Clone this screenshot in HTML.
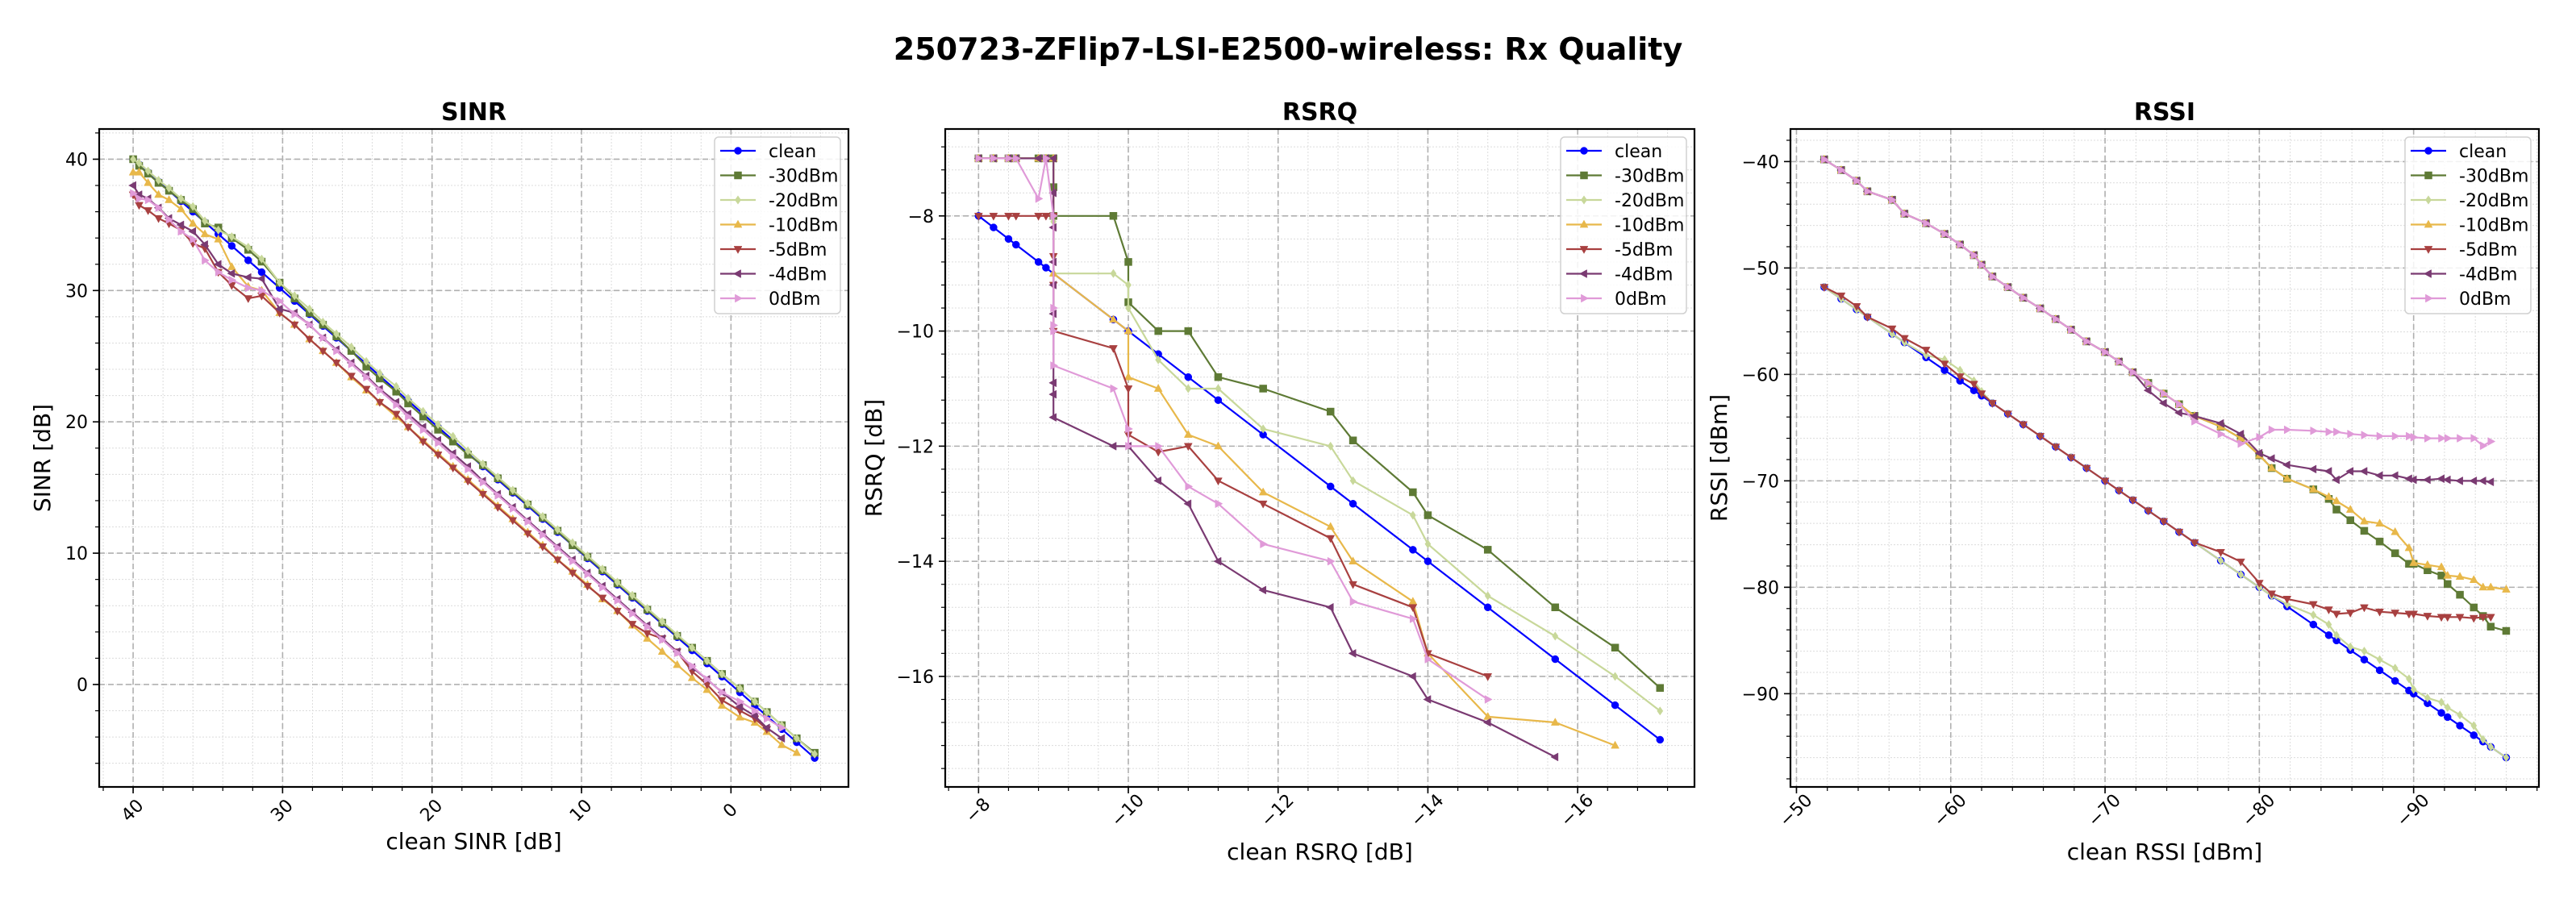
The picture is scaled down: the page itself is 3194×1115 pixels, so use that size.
<!DOCTYPE html>
<html><head><meta charset="utf-8">
<style>
html,body{margin:0;padding:0;background:#fff;}
svg{display:block;font-family:"DejaVu Sans","Liberation Sans",sans-serif;}
</style></head>
<body>
<svg id="fig" width="3194" height="1115" viewBox="0 0 3194 1115" xmlns="http://www.w3.org/2000/svg">
<rect width="3194" height="1115" fill="#fff"/>
<text x="1597" y="74" font-size="38" font-weight="bold" text-anchor="middle">250723-ZFlip7-LSI-E2500-wireless: Rx Quality</text>
</svg>
<script>
// ---------- series names / styles ----------
const seriesNames = ["clean","-30dBm","-20dBm","-10dBm","-5dBm","-4dBm","0dBm"];
const seriesColors = ["#0000ff","#5e7a35","#c8d89a","#e8b84a","#a84040","#7a3a72","#e09ad8"];
const seriesMarkers = ["o","s","D","^","v","<",">"];

// ---------- SINR ----------
const sinrX = [40,39.6,39,38.3,37.6,36.8,36,35.2,34.3,33.4,32.3,31.4,30.2,29.2,28.2,27.3,26.4,25.4,24.4,23.5,22.4,21.6,20.6,19.6,18.6,17.6,16.6,15.6,14.6,13.6,12.6,11.6,10.6,9.6,8.6,7.6,6.6,5.6,4.6,3.6,2.6,1.6,0.6,-0.6,-1.6,-2.4,-3.4,-4.4,-5.6];
const sinrClean = [40,39.6,39,38.3,37.6,36.8,36,35.2,34.3,33.4,32.3,31.4,30.2,29.2,28.2,27.3,26.4,25.4,24.4,23.5,22.4,21.6,20.6,19.6,18.6,17.6,16.6,15.6,14.6,13.6,12.6,11.6,10.6,9.6,8.6,7.6,6.6,5.6,4.6,3.6,2.6,1.6,0.6,-0.6,-1.6,-2.4,-3.4,-4.4,-5.6];
const sinrM30 = [40,39.5,38.9,38.2,37.6,36.9,36.2,35.1,34.8,34,33.1,32.2,30.6,29.4,28.3,27.4,26.5,25.4,24.2,23.3,22.3,21.4,20.4,19.4,18.5,17.5,16.7,15.7,14.7,13.7,12.7,11.7,10.6,9.7,8.7,7.7,6.7,5.7,4.7,3.7,2.8,1.8,0.8,-0.3,-1.3,-2.1,-3.1,-4.1,-5.2];
const sinrM20 = [40,39.7,39.1,38.4,37.8,37,36.4,35.3,34.6,34.1,33.3,32.4,30.6,29.6,28.6,27.6,26.7,25.7,24.6,23.7,22.7,21.8,20.8,19.8,18.9,17.8,16.8,15.8,14.8,13.8,12.8,11.8,10.8,9.8,8.8,7.8,6.8,5.8,4.8,3.8,2.8,1.8,0.8,-0.3,-1.3,-2.1,-3.1,-4.1,-5.3];
const sinrM10 = [39,39,38.2,37.3,36.9,36.2,35.1,34.3,33.9,31.8,30.3,30,28.3,27.4,26.3,25.4,24.5,23.4,22.4,21.5,20.4,19.6,18.6,17.6,16.6,15.6,14.6,13.6,12.6,11.6,10.6,9.5,8.6,7.6,6.5,5.6,4.5,3.5,2.5,1.5,0.5,-0.4,-1.6,-2.5,-2.9,-3.6,-4.6,-5.2];
const sinrM5 = [37.3,36.5,36.1,35.5,35.1,34.6,33.6,33.2,31.4,30.4,29.4,29.6,28.3,27.4,26.3,25.4,24.5,23.5,22.5,21.5,20.6,19.6,18.5,17.5,16.5,15.5,14.5,13.5,12.5,11.5,10.5,9.5,8.5,7.5,6.6,5.6,4.6,3.9,3.5,2.5,1,0,-1.2,-2,-2.6,-3.4];
const sinrM4 = [38,37.3,37,36.3,35.5,35,34.5,33.5,32,31.3,31,30.9,28.6,28.3,27.4,26.4,25.5,24.5,23.5,22.5,21.5,20.6,19.6,18.6,17.6,16.6,15.5,14.5,13.5,12.5,11.5,10.5,9.5,8.5,7.5,6.5,5.5,4.5,3.5,2.5,1.3,0.4,-0.6,-1.7,-2.4,-3.3,-4.1];
const sinr0 = [37.4,37,36.9,36.3,35.4,34.5,33.9,32.3,31.4,30.8,30.2,30.0,29.2,28.2,27.4,26.4,25.4,24.4,23.4,22.4,21.3,20.4,19.4,18.4,17.4,16.4,15.4,14.4,13.4,12.4,11.4,10.4,9.4,8.4,7.4,6.4,5.4,4.4,3.4,2.4,1.4,0.4,-0.6,-1.3,-2,-2.6,-3.3];
const sinrXTicks = [40,30,20,10,0];
const sinrYTicks = [0,10,20,30,40];

// ---------- RSRQ ----------
const rsrqCleanX = [-8,-8.2,-8.4,-8.5,-8.8,-8.9,-9.8,-10,-10.4,-10.8,-11.2,-11.8,-12.7,-13,-13.8,-14,-14.8,-15.7,-16.5,-17.1];
const rsrqCleanY = [-8,-8.2,-8.4,-8.5,-8.8,-8.9,-9.8,-10,-10.4,-10.8,-11.2,-11.8,-12.7,-13,-13.8,-14,-14.8,-15.7,-16.5,-17.1];
const rsrqM30X = [-8,-8.2,-8.4,-8.5,-8.8,-8.9,-9,-9,-9,-9.8,-10,-10,-10.4,-10.8,-11.2,-11.8,-12.7,-13,-13.8,-14,-14.8,-15.7,-16.5,-17.1];
const rsrqM30Y = [-7,-7,-7,-7,-7,-7,-7,-7.5,-8,-8,-8.8,-9.5,-10,-10,-10.8,-11,-11.4,-11.9,-12.8,-13.2,-13.8,-14.8,-15.5,-16.2];
const rsrqM20X = [-8,-8.2,-8.4,-8.5,-8.8,-8.9,-9,-9,-9,-9,-9.8,-10,-10,-10.4,-10.8,-11.2,-11.8,-12.7,-13,-13.8,-14,-14.8,-15.7,-16.5,-17.1];
const rsrqM20Y = [-7,-7,-7,-7,-7,-7,-7,-8.1,-8.7,-9,-9,-9.2,-9.6,-10.5,-11,-11,-11.7,-12,-12.6,-13.2,-13.7,-14.6,-15.3,-16,-16.6];
const rsrqM10X = [-8,-8.2,-8.4,-8.5,-8.8,-8.9,-9,-9,-9.8,-10,-10,-10.4,-10.8,-11.2,-11.8,-12.7,-13,-13.8,-14,-14.8,-15.7,-16.5];
const rsrqM10Y = [-7,-7,-7,-7,-7,-7,-7,-9,-9.8,-10,-10.8,-11,-11.8,-12,-12.8,-13.4,-14,-14.7,-15.6,-16.7,-16.8,-17.2];
const rsrqM5X = [-8,-8.2,-8.4,-8.5,-8.8,-8.9,-9,-9,-9,-9,-9.8,-10,-10,-10.4,-10.8,-11.2,-11.8,-12.7,-13,-13.8,-14,-14.8];
const rsrqM5Y = [-8,-8,-8,-8,-8,-8,-8,-8.7,-9.2,-10,-10.3,-11,-11.8,-12.1,-12,-12.6,-13,-13.6,-14.4,-14.8,-15.6,-16];
const rsrqM4X = [-8,-8.2,-8.4,-8.5,-8.8,-8.9,-9,-9,-9,-9,-9,-9,-9,-9,-9,-9.8,-10,-10.4,-10.8,-11.2,-11.8,-12.7,-13,-13.8,-14,-14.8,-15.7];
const rsrqM4Y = [-7,-7,-7,-7,-7,-7,-7,-7.6,-8.2,-8.8,-9.2,-9.7,-10.9,-11.1,-11.5,-12,-12,-12.6,-13,-14,-14.5,-14.8,-15.6,-16,-16.4,-16.8,-17.4];
const rsrq0X = [-8,-8.2,-8.4,-8.5,-8.8,-8.9,-9,-9,-9,-9,-9,-9.8,-10,-10,-10.4,-10.8,-11.2,-11.8,-12.7,-13,-13.8,-14,-14.8];
const rsrq0Y = [-7,-7,-7,-7,-7.7,-7,-8,-9.6,-9.9,-10,-10.6,-11,-11.7,-12,-12,-12.7,-13,-13.7,-14,-14.7,-15,-15.7,-16.4];
const rsrqXTicks = [-8,-10,-12,-14,-16];
const rsrqYTicks = [-8,-10,-12,-14,-16];

// ---------- RSSI ----------
const rssiX = [-51.8,-52.9,-53.9,-54.6,-56.2,-57,-58.4,-59.6,-60.6,-61.5,-62,-62.7,-63.7,-64.7,-65.8,-66.8,-67.8,-68.8,-70,-70.9,-71.8,-72.8,-73.8,-74.8,-75.8,-77.5,-78.8,-80,-80.8,-81.8,-83.5,-84.5,-85,-85.9,-86.8,-87.8,-88.8,-89.7,-90,-90.9,-91.8,-92.2,-93,-93.9,-94.5,-95,-96];
const rssiClean = [-51.8,-52.9,-53.9,-54.6,-56.2,-57,-58.4,-59.6,-60.6,-61.5,-62,-62.7,-63.7,-64.7,-65.8,-66.8,-67.8,-68.8,-70,-70.9,-71.8,-72.8,-73.8,-74.8,-75.8,-77.5,-78.8,-80,-80.8,-81.8,-83.5,-84.5,-85,-85.9,-86.8,-87.8,-88.8,-89.7,-90,-90.9,-91.8,-92.2,-93,-93.9,-94.5,-95,-96];
const rssiM30 = [-39.8,-40.8,-41.8,-42.8,-43.6,-44.9,-45.8,-46.8,-47.8,-48.8,-49.7,-50.8,-51.8,-52.8,-53.8,-54.8,-55.8,-56.9,-57.9,-58.8,-59.8,-60.8,-61.8,-62.8,-63.9,-64.9,-66,-67.6,-68.8,-69.8,-70.8,-71.7,-72.7,-73.7,-74.7,-75.7,-76.8,-77.8,-77.8,-78.4,-78.9,-79.7,-80.7,-81.9,-82.7,-83.7,-84.1];
const rssiM20 = [-51.8,-52.9,-53.9,-54.6,-56.2,-57,-58.2,-58.6,-59.6,-60.6,-61.6,-62.7,-63.7,-64.7,-65.8,-66.8,-67.8,-68.8,-70,-70.9,-71.8,-72.8,-73.8,-74.8,-75.8,-77.5,-78.8,-80,-80.8,-81.6,-82.6,-83.5,-84.5,-85.6,-86,-86.8,-87.6,-88.6,-89.6,-90.4,-90.8,-91.3,-92,-93,-94.3,-95,-96];
const rssiM10 = [-39.8,-40.8,-41.8,-42.8,-43.6,-44.9,-45.8,-46.8,-47.8,-48.8,-49.7,-50.8,-51.8,-52.8,-53.8,-54.8,-55.8,-56.9,-57.9,-58.8,-59.8,-60.8,-61.8,-62.8,-63.9,-64.9,-66,-67.6,-68.8,-69.8,-70.8,-71.5,-71.9,-72.7,-73.8,-74,-74.8,-76.3,-77.7,-77.9,-78.1,-78.9,-79,-79.3,-80,-80,-80.2];
const rssiM5 = [-51.8,-52.6,-53.6,-54.6,-55.7,-56.6,-57.7,-59,-60.2,-60.9,-61.8,-62.7,-63.7,-64.7,-65.8,-66.8,-67.8,-68.8,-70,-70.9,-71.8,-72.8,-73.8,-74.8,-75.8,-76.7,-77.6,-79.6,-80.6,-81.1,-81.6,-82.1,-82.5,-82.4,-81.9,-82.3,-82.4,-82.5,-82.5,-82.7,-82.8,-82.8,-82.8,-82.9,-82.8,-82.8];
const rssiM4 = [-39.8,-40.8,-41.8,-42.8,-43.6,-44.9,-45.8,-46.8,-47.8,-48.8,-49.7,-50.8,-51.8,-52.8,-53.8,-54.8,-55.8,-56.9,-57.9,-58.8,-59.8,-61.5,-62.7,-63.6,-63.9,-64.6,-65.6,-67.4,-67.9,-68.5,-68.9,-69.1,-69.9,-69.1,-69.1,-69.5,-69.5,-69.8,-69.9,-69.9,-69.8,-69.9,-70,-70,-70,-70.1];
const rssi0 = [-39.8,-40.8,-41.8,-42.8,-43.6,-44.9,-45.8,-46.8,-47.8,-48.8,-49.7,-50.8,-51.8,-52.8,-53.8,-54.8,-55.8,-56.9,-57.9,-58.8,-59.8,-60.8,-61.8,-62.8,-64.4,-65.6,-66.5,-65.9,-65.2,-65.2,-65.3,-65.4,-65.4,-65.6,-65.7,-65.8,-65.8,-65.8,-65.9,-66,-66,-66,-66,-66,-66.7,-66.3];
const rssiXTicks = [-50,-60,-70,-80,-90];
const rssiYTicks = [-40,-50,-60,-70,-80,-90];

const NS = "http://www.w3.org/2000/svg";
const svg = document.getElementById("fig");
function el(tag, attrs, parent){
  const e = document.createElementNS(NS, tag);
  for (const k in attrs) e.setAttribute(k, attrs[k]);
  (parent||svg).appendChild(e);
  return e;
}
function fmt(v){ return v < 0 ? "\u2212" + Math.abs(v) : String(v); }

function marker(g, type, x, y, color, s){
  let m;
  if (type === "o") m = el("circle", {cx:x, cy:y, r:s}, g);
  else if (type === "s") m = el("rect", {x:x-s, y:y-s, width:2*s, height:2*s}, g);
  else {
    let pts;
    if (type === "D") pts = [[0,-s*1.15],[s*0.8,0],[0,s*1.15],[-s*0.8,0]];
    else if (type === "^") pts = [[0,-s*1.2],[s*1.1,s*0.8],[-s*1.1,s*0.8]];
    else if (type === "v") pts = [[0,s*1.2],[s*1.1,-s*0.8],[-s*1.1,-s*0.8]];
    else if (type === "<") pts = [[-s*1.2,0],[s*0.8,-s*1.1],[s*0.8,s*1.1]];
    else pts = [[s*1.2,0],[-s*0.8,-s*1.1],[-s*0.8,s*1.1]];
    m = el("polygon", {points: pts.map(p => (x+p[0])+","+(y+p[1])).join(" ")}, g);
  }
  m.setAttribute("fill", color);
  m.setAttribute("stroke", color);
  m.setAttribute("stroke-width", "0.5");
  return m;
}

function panel(cfg){
  const g = el("g", {});
  
  
  const L=cfg.left, R=cfg.right, T=160, B=976;
  const sx = v => L + (v - cfg.xlim[0]) / (cfg.xlim[1] - cfg.xlim[0]) * (R - L);
  const sy = v => B - (v - cfg.ylim[0]) / (cfg.ylim[1] - cfg.ylim[0]) * (B - T);
  const xmin = Math.min(cfg.xlim[0], cfg.xlim[1]), xmax = Math.max(cfg.xlim[0], cfg.xlim[1]);
  const ymin = cfg.ylim[0], ymax = cfg.ylim[1];
  for (let v = Math.ceil(xmin/cfg.xminor)*cfg.xminor; v <= xmax; v += cfg.xminor){
    const x = sx(v);
    el("line", {x1:x, x2:x, y1:T, y2:B, stroke:"#dcdcdc", "stroke-width":1, "stroke-dasharray":"2,2"}, g);
    el("line", {x1:x, x2:x, y1:B, y2:B+5, stroke:"#000", "stroke-width":1.2}, g);
  }
  for (let v = Math.ceil(ymin/cfg.yminor)*cfg.yminor; v <= ymax; v += cfg.yminor){
    const y = sy(v);
    el("line", {x1:L, x2:R, y1:y, y2:y, stroke:"#dcdcdc", "stroke-width":1, "stroke-dasharray":"2,2"}, g);
    el("line", {x1:L-5, x2:L, y1:y, y2:y, stroke:"#000", "stroke-width":1.2}, g);
  }
  cfg.xticks.forEach(v => {
    const x = sx(v);
    el("line", {x1:x, x2:x, y1:T, y2:B, stroke:"#b0b0b0", "stroke-width":1.6, "stroke-dasharray":"7,4"}, g);
    el("line", {x1:x, x2:x, y1:B, y2:B+8, stroke:"#000", "stroke-width":1.6}, g);
    const t = el("text", {x:x, y:B+36, "font-size":22, "text-anchor":"middle", transform:"rotate(-45 "+x+" "+(B+30)+")"}, g);
    
    
    t.textContent = fmt(v);
  });
  cfg.yticks.forEach(v => {
    const y = sy(v);
    el("line", {x1:L, x2:R, y1:y, y2:y, stroke:"#b0b0b0", "stroke-width":1.6, "stroke-dasharray":"7,4"}, g);
    el("line", {x1:L-8, x2:L, y1:y, y2:y, stroke:"#000", "stroke-width":1.6}, g);
    const t = el("text", {x:L-14, y:y+8, "font-size":22, "text-anchor":"end"}, g);
    
    
    t.textContent = fmt(v);
  });
  cfg.series.forEach((s, i) => {
    const sg = el("g", {}, g);
    
    
    const n = Math.min(s.x.length, s.y.length);
    let d = "";
    for (let k = 0; k < n; k++) d += (k ? "L" : "M") + sx(s.x[k]).toFixed(1) + "," + sy(s.y[k]).toFixed(1);
    el("path", {d:d, fill:"none", stroke:seriesColors[i], "stroke-width":2.2, "stroke-linejoin":"round"}, sg);
    for (let k = 0; k < n; k++){
      const m = marker(sg, seriesMarkers[i], sx(s.x[k]), sy(s.y[k]), seriesColors[i], 4.5);
      
      
    }
  });
  const fr = el("rect", {x:L, y:T, width:R-L, height:B-T, fill:"none", stroke:"#000", "stroke-width":2.2}, g);
  
  
  const tt = el("text", {x:(L+R)/2, y:149, "font-size":30, "font-weight":"bold", "text-anchor":"middle"}, g);
  
  
  tt.textContent = cfg.title;
  const xl = el("text", {x:(L+R)/2, y:cfg.xlabY, "font-size":28, "text-anchor":"middle"}, g);
  
  
  xl.textContent = cfg.xlabel;
  const yl = el("text", {x:cfg.ylabX, y:(T+B)/2, "font-size":28, "text-anchor":"middle", transform:"rotate(-90 "+cfg.ylabX+" "+((T+B)/2)+")"}, g);
  
  
  yl.textContent = cfg.ylabel;
  const lg = el("g", {}, g);
  
  
  const lx = R - 166;
  el("rect", {x:lx, y:170, width:156, height:219, rx:5, fill:"#fff", "fill-opacity":0.85, stroke:"#d0d0d0", "stroke-width":1.5}, lg);
  seriesNames.forEach((nm, i) => {
    const y = 187 + i*30.5;
    const e = el("g", {}, lg);
    
    
    el("line", {x1:lx+7, x2:lx+51, y1:y, y2:y, stroke:seriesColors[i], "stroke-width":2.2}, e);
    marker(e, seriesMarkers[i], lx+29, y, seriesColors[i], 4.5);
    const t = el("text", {x:lx+67, y:y+8, "font-size":22}, e);
    t.textContent = nm;
  });
}

panel({name:"sinr", title:"SINR", xlabel:"clean SINR [dB]", ylabel:"SINR [dB]", left:123, right:1052,
  xlim:[42.27,-7.86], ylim:[-7.8,42.3], xminor:2, yminor:2, xticks:sinrXTicks, yticks:sinrYTicks, xlabY:1053, ylabX:62,
  series:[{x:sinrX,y:sinrClean},{x:sinrX,y:sinrM30},{x:sinrX,y:sinrM20},{x:sinrX,y:sinrM10},{x:sinrX,y:sinrM5},{x:sinrX,y:sinrM4},{x:sinrX,y:sinr0}]});
panel({name:"rsrq", title:"RSRQ", xlabel:"clean RSRQ [dB]", ylabel:"RSRQ [dB]", left:1172, right:2101,
  xlim:[-7.555,-17.56], ylim:[-17.92,-6.49], xminor:0.4, yminor:0.4, xticks:rsrqXTicks, yticks:rsrqYTicks, xlabY:1066, ylabX:1093,
  series:[{x:rsrqCleanX,y:rsrqCleanY},{x:rsrqM30X,y:rsrqM30Y},{x:rsrqM20X,y:rsrqM20Y},{x:rsrqM10X,y:rsrqM10Y},{x:rsrqM5X,y:rsrqM5Y},{x:rsrqM4X,y:rsrqM4Y},{x:rsrq0X,y:rsrq0Y}]});
panel({name:"rssi", title:"RSSI", xlabel:"clean RSSI [dBm]", ylabel:"RSSI [dBm]", left:2220, right:3148,
  xlim:[-49.61,-98.12], ylim:[-98.76,-36.94], xminor:2, yminor:2, xticks:rssiXTicks, yticks:rssiYTicks, xlabY:1066, ylabX:2141,
  series:[{x:rssiX,y:rssiClean},{x:rssiX,y:rssiM30},{x:rssiX,y:rssiM20},{x:rssiX,y:rssiM10},{x:rssiX,y:rssiM5},{x:rssiX,y:rssiM4},{x:rssiX,y:rssi0}]});
</script>
</body></html>
